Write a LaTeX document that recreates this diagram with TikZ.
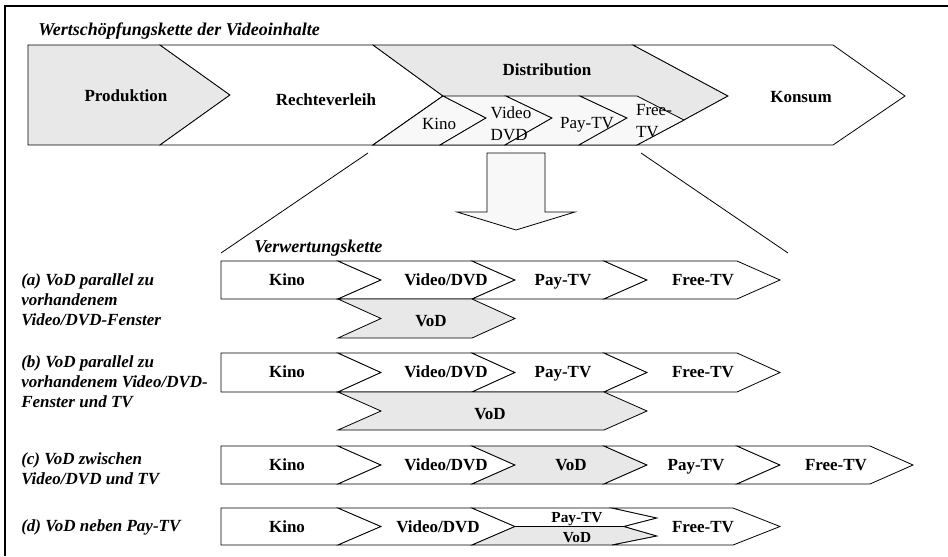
\documentclass[tikz,border=0pt]{standalone}
\usepackage{fontspec}
\setmainfont{Liberation Serif}
\usepackage{tikz}
\usetikzlibrary{positioning}
\tikzset{>=latex}
\definecolor{boxgray}{HTML}{E8E8E8}
\definecolor{boxlight}{HTML}{F8F8F8}
\tikzset{
  chain/.style={draw=black,line width=0.6pt,line join=miter},
  stage/.style={font=\fontsize{12.75}{15}\selectfont\bfseries,inner sep=0pt,
    text height=8.5pt,text depth=0pt},
  substage/.style={font=\fontsize{12.75}{16.5}\selectfont,inner sep=0pt,align=left},
  small/.style={font=\fontsize{11.5}{13}\selectfont\bfseries,inner sep=0pt,
    text height=7.6pt,text depth=0pt},
  caselbl/.style={font=\fontsize{12.75}{15}\selectfont\bfseries\itshape,inner sep=0pt,align=left,anchor=west},
  headlbl/.style={caselbl,font=\fontsize{13.5}{15}\selectfont\bfseries\itshape},
}
% chevron: fill, left x, right x, top y, bottom y, tip depth
\newcommand{\chev}[6]{%
  \filldraw[chain,fill=#1] (#2,#4) -- (#3,#4) -- (#3+#6,{(#4+#5)/2}) -- (#3,#5)
    -- (#2,#5) -- (#2+#6,{(#4+#5)/2}) -- cycle;}
% first chevron of a row, flat on the left
\newcommand{\chevflat}[6]{%
  \filldraw[chain,fill=#1] (#2,#4) -- (#3,#4) -- (#3+#6,{(#4+#5)/2}) -- (#3,#5)
    -- (#2,#5) -- cycle;}

\begin{document}
\begin{tikzpicture}[x=0.75pt,y=-0.75pt]
  \useasboundingbox (0,0) rectangle (948,556);
  % frame
  \draw[line width=1.5pt] (5,556) -- (5,6) -- (948,6);

  % value chain on top
  \node[headlbl] (title) at (38,31) {Wertschöpfungskette der Videoinhalte};
  \filldraw[chain,fill=boxgray] (28,45) -- (160,45) -- (230,95) -- (160,145) -- (28,145) -- cycle;
  \filldraw[chain,fill=white] (160,45) -- (373,45) -- (443,96) -- (373,145) -- (160,145) -- (230,95) -- cycle;
  \filldraw[chain,fill=boxgray] (373,45) -- (633,45) -- (728,96) -- (684,120) -- (637,145) -- (373,145) -- (443,96) -- cycle;
  \filldraw[chain,fill=white] (633,45) -- (833,45) -- (905,96) -- (833,145) -- (637,145) -- (684,120) -- (728,96) -- cycle;
  % windows inside the distribution
  \filldraw[chain,fill=boxlight] (443,96) -- (486,118) -- (440,145) -- (373,145) -- cycle;
  \filldraw[chain,fill=boxlight] (443,96) -- (506,96) -- (552,118) -- (505,145) -- (440,145) -- (486,118) -- cycle;
  \filldraw[chain,fill=boxlight] (506,96) -- (580,96) -- (627,118) -- (579,145) -- (505,145) -- (552,118) -- cycle;
  \filldraw[chain,fill=boxlight] (580,96) -- (637,96) -- (684,120) -- (637,145) -- (579,145) -- (627,118) -- cycle;

  \node[stage] (prod) at (126,96) {Produktion};
  \node[stage] (recht) at (326,100) {Rechteverleih};
  \node[stage] (distr) at (547,70) {Distribution};
  \node[stage] (kons) at (801,97) {Konsum};
  \node[substage] (skino) at (439,124) {Kino};
  \node[substage] (svideo) at (511,124) {Video\\DVD};
  \node[substage] (spay) at (587,125) {Pay-TV};
  \node[substage] (sfree) at (654,121) {Free-\\TV};

  % zoom lines and arrow
  \coordinate (zl1) at (368,153);
  \coordinate (zl2) at (221,253);
  \coordinate (zr1) at (641,153);
  \coordinate (zr2) at (788,253);
  \draw[chain] (zl1) -- (zl2);
  \draw[chain] (zr1) -- (zr2);
  \filldraw[chain,fill=boxlight] (487,153) -- (545,153) -- (545,212) -- (575,212) -- (516,230)
    -- (457,212) -- (487,212) -- cycle;
  \node[headlbl] (verw) at (254,248) {Verwertungskette};

  % (a)
  \node[caselbl] (casea) at (21,300) {(a) VoD parallel zu\\vorhandenem\\Video/DVD-Fenster};
  \chevflat{white}{221}{338}{261}{299}{43}
  \foreach \xl/\xr in {338/472,472/604,604/737}
    \chev{white}{\xl}{\xr}{261}{299}{43};
  \chev{boxgray}{338}{472}{299}{338}{43}
  \node[stage] (akino) at (287,280) {Kino};
  \node[stage] (avideo) at (446,280) {Video/DVD};
  \node[stage] (apay) at (563,280) {Pay-TV};
  \node[stage] (afree) at (703,280) {Free-TV};
  \node[stage] (avod) at (431,321) {VoD};

  % (b)
  \node[caselbl] (caseb) at (21,382) {(b) VoD parallel zu\\vorhandenem Video/DVD-\\Fenster und TV};
  \chevflat{white}{221}{338}{353}{392}{43}
  \foreach \xl/\xr in {338/472,472/604,604/737}
    \chev{white}{\xl}{\xr}{353}{392}{43};
  \chev{boxgray}{338}{604}{392}{430}{43}
  \node[stage] (bkino) at (287,372) {Kino};
  \node[stage] (bvideo) at (446,372) {Video/DVD};
  \node[stage] (bpay) at (563,372) {Pay-TV};
  \node[stage] (bfree) at (703,372) {Free-TV};
  \node[stage] (bvod) at (490,414) {VoD};

  % (c)
  \node[caselbl] (casec) at (21,469) {(c) VoD zwischen\\Video/DVD und TV};
  \chevflat{white}{221}{338}{446}{484}{43}
  \chev{white}{338}{472}{446}{484}{43}
  \chev{boxgray}{472}{604}{446}{484}{43}
  \chev{white}{604}{737}{446}{484}{43}
  \chev{white}{737}{870}{446}{484}{43}
  \node[stage] (ckino) at (287,465) {Kino};
  \node[stage] (cvideo) at (446,465) {Video/DVD};
  \node[stage] (cvod) at (571,465) {VoD};
  \node[stage] (cpay) at (696,465) {Pay-TV};
  \node[stage] (cfree) at (836,465) {Free-TV};

  % (d)
  \node[caselbl] (cased) at (21,527) {(d) VoD neben Pay-TV};
  \chevflat{white}{221}{338}{508}{545}{43}
  \chev{white}{338}{472}{508}{545}{43}
  \filldraw[chain,fill=white] (472,508) -- (612,508) -- (657,518) -- (624,526.5) -- (515,526.5) -- cycle;
  \filldraw[chain,fill=boxgray] (515,526.5) -- (624,526.5) -- (657,536) -- (612,545) -- (472,545) -- cycle;
  \filldraw[chain,fill=white] (612,508) -- (733,508) -- (780,526.5) -- (733,545) -- (612,545)
    -- (657,536) -- (624,526.5) -- (657,518) -- cycle;
  \node[stage] (dkino) at (287,527) {Kino};
  \node[stage] (dvideo) at (438,527) {Video/DVD};
  \node[small] (dpay) at (577,517) {Pay-TV};
  \node[small] (dvod) at (577,537) {VoD};
  \node[stage] (dfree) at (703,527) {Free-TV};
\end{tikzpicture}
\end{document}
